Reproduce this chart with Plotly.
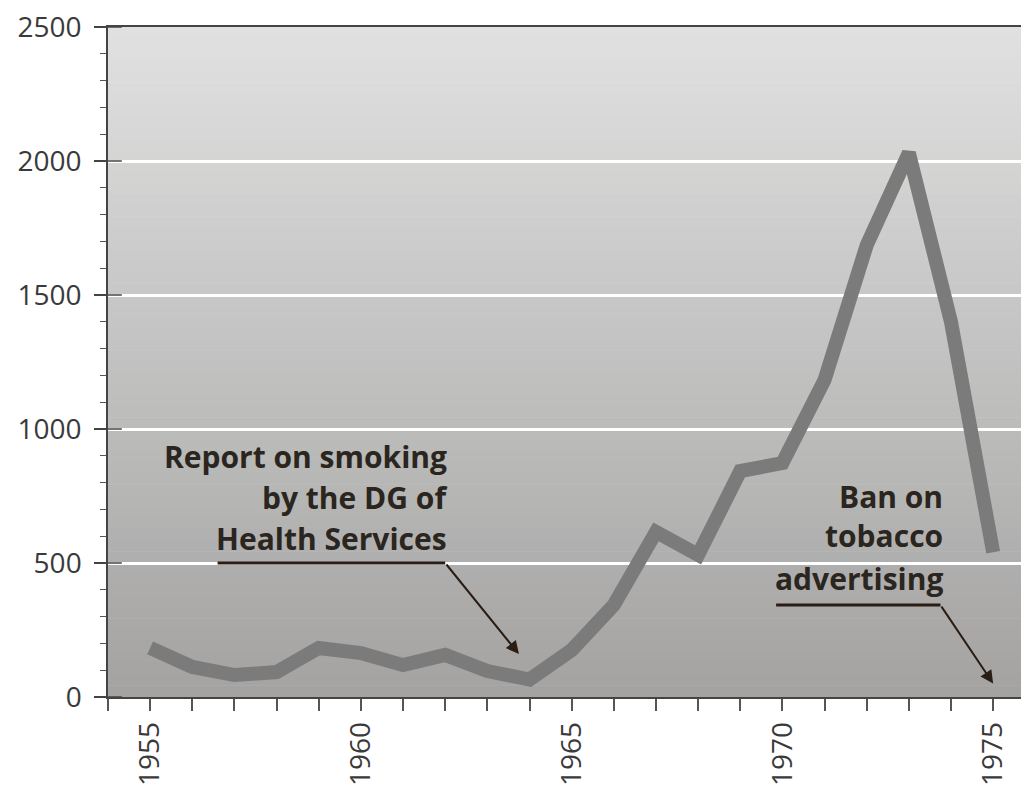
import plotly.graph_objects as go

years = list(range(1955, 1976))
values = [183, 112, 82, 93, 183, 164, 119, 157, 97, 65, 175, 343, 616, 530, 843, 873, 1183, 1686, 2030, 1399, 540]

y_ticks = [0, 500, 1000, 1500, 2000, 2500]
x_tick_labels = [1955, 1960, 1965, 1970, 1975]

note1_lines = ["Report on smoking", "by the DG of", "Health Services"]
note1_line_y = [898, 745, 590]
note1_right_x = 1962.1
note1_underline = dict(x0=1956.6, x1=1962.0, y=500)
note1_arrow_tip = (1963.75, 160)

note2_lines = ["Ban on", "tobacco", "advertising"]
note2_line_y = [750, 601, 444]
note2_right_x = 1973.85
note2_underline = dict(x0=1969.85, x1=1973.75, y=343)
note2_arrow_tip = (1975.0, 50)

X_RANGE = [1954, 1975.85]
Y_RANGE = [0, 2500]

fig = go.Figure()

fig.add_trace(go.Scatter(
    x=years, y=values, mode="lines",
    line=dict(color="#7b7b7b", width=14),
    hoverinfo="skip", showlegend=False,
))

shapes = []
# background gradient
n = 60
top = (224, 224, 224)
bot = (164, 163, 162)
for i in range(n):
    t = i / (n - 1)
    c = tuple(int(round(top[k] + (bot[k] - top[k]) * t)) for k in range(3))
    shapes.append(dict(type="rect", xref="x domain", yref="y domain",
                       x0=0, x1=1, y0=1 - (i + 1) / n, y1=1 - i / n + 0.001,
                       fillcolor="rgb(%d,%d,%d)" % c, line=dict(width=0), layer="below"))

for ul in (note1_underline, note2_underline):
    shapes.append(dict(type="line", xref="x", yref="y", x0=ul["x0"], x1=ul["x1"],
                       y0=ul["y"], y1=ul["y"], line=dict(color="#2a1d14", width=3), layer="above"))

# major y ticks crossing into the plot
for v in y_ticks:
    shapes.append(dict(type="line", xref="x domain", yref="y", x0=0, x1=0.015,
                       y0=v, y1=v, line=dict(color="#444", width=1.5), layer="above"))

annotations = []
font_ann = dict(family="Open Sans, sans-serif", size=30, color="#2b2520")
for txt, yy in zip(note1_lines, note1_line_y):
    annotations.append(dict(x=note1_right_x, y=yy, xref="x", yref="y", text="<b>%s</b>" % txt,
                            showarrow=False, xanchor="right", yanchor="middle", font=font_ann))
for txt, yy in zip(note2_lines, note2_line_y):
    annotations.append(dict(x=note2_right_x, y=yy, xref="x", yref="y", text="<b>%s</b>" % txt,
                            showarrow=False, xanchor="right", yanchor="middle", font=font_ann))

for ul, tip in ((note1_underline, note1_arrow_tip), (note2_underline, note2_arrow_tip)):
    annotations.append(dict(x=tip[0], y=tip[1], ax=ul["x1"], ay=ul["y"], axref="x", ayref="y",
                            xref="x", yref="y", text="", showarrow=True, arrowhead=2,
                            arrowsize=1.3, arrowwidth=2, arrowcolor="#2a1d14"))

fig.update_layout(
    width=1021, height=789,
    margin=dict(l=100, r=0, t=19, b=100),
    paper_bgcolor="white",
    plot_bgcolor="rgba(0,0,0,0)",
    shapes=shapes,
    annotations=annotations,
    showlegend=False,
    xaxis=dict(
        range=X_RANGE, tickmode="array", tickvals=x_tick_labels,
        ticktext=[str(v) for v in x_tick_labels], tickangle=-90,
        showgrid=False, zeroline=False,
        showline=True, linecolor="#444", linewidth=1.5, mirror=True,
        ticks="outside", ticklen=12, tickwidth=1.5, tickcolor="#555",
        minor=dict(tickmode="linear", tick0=1954, dtick=1, ticks="outside", ticklen=12,
                   tickwidth=1.5, tickcolor="#555", showgrid=False),
        tickfont=dict(family="Open Sans, sans-serif", size=28, color="#3a3a3a"),
        ticklabeloverflow="allow",
        fixedrange=True,
    ),
    yaxis=dict(
        range=Y_RANGE, tickmode="array", tickvals=y_ticks,
        ticktext=[str(v) for v in y_ticks],
        showgrid=True, gridcolor="white", gridwidth=3,
        zeroline=False,
        showline=True, linecolor="#444", linewidth=1.5,
        ticks="outside", ticklen=12, tickwidth=1.5, tickcolor="#444",
        minor=dict(tickmode="linear", tick0=0, dtick=100, ticks="outside", ticklen=6,
                   tickwidth=1.2, tickcolor="#555", showgrid=False),
        ticklabelstandoff=7,
        ticklabeloverflow="allow",
        tickfont=dict(family="Open Sans, sans-serif", size=28, color="#3a3a3a"),
        fixedrange=True,
    ),
)

fig.write_html("out.html")
